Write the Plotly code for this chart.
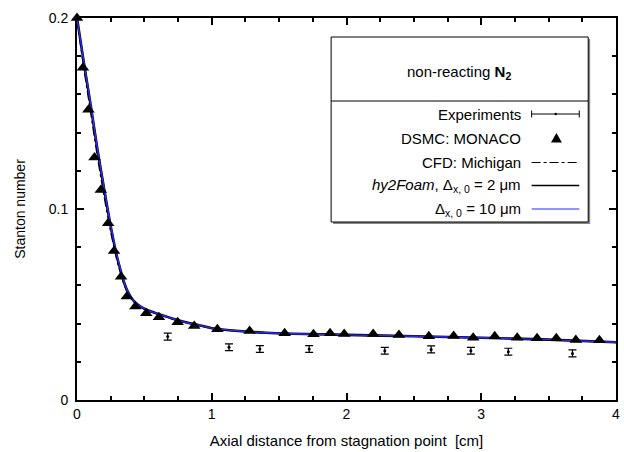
import plotly.graph_objects as go

# ---------------- data ----------------
dsmc_x = [0.0, 0.044, 0.085, 0.13, 0.177, 0.231, 0.275, 0.327, 0.37, 0.433, 0.514, 0.608,
          0.747, 0.870, 1.042, 1.281, 1.541, 1.755, 1.878, 1.983, 2.198, 2.389, 2.611,
          2.795, 2.940, 3.100, 3.267, 3.414, 3.557, 3.702, 3.877]
dsmc_y = [0.200, 0.174, 0.152, 0.127, 0.110, 0.0925, 0.078, 0.0645, 0.0542, 0.049, 0.0454,
          0.0433, 0.0407, 0.0388, 0.0370, 0.0361, 0.0349, 0.0344, 0.0349, 0.0345, 0.0346,
          0.0340, 0.0334, 0.0335, 0.0326, 0.0334, 0.0326, 0.0323, 0.0323, 0.0314, 0.0313]

exp_x = [0.673, 1.128, 1.357, 1.723, 2.284, 2.628, 2.923, 3.201, 3.677]
exp_y = [0.0332, 0.0276, 0.0267, 0.0267, 0.0258, 0.0265, 0.0258, 0.0253, 0.0244]
exp_err = [0.0018, 0.0018, 0.0018, 0.0018, 0.0018, 0.0018, 0.0018, 0.0018, 0.0018]

hy2_x = [0.0, 0.05, 0.1, 0.15, 0.2, 0.25, 0.3, 0.325, 0.35, 0.375, 0.4, 0.425, 0.45, 0.5,
         0.55, 0.6, 0.65, 0.7, 0.8, 0.9, 1.0, 1.2, 1.4, 1.6, 1.8, 2.0, 2.5, 3.0, 3.5, 4.0]
hy2_y = [0.200, 0.177, 0.155, 0.132, 0.111, 0.091, 0.074, 0.0675, 0.0614, 0.0570, 0.0538,
         0.0516, 0.0500, 0.0478, 0.0463, 0.0451, 0.0440, 0.0428, 0.0408, 0.0393, 0.0376,
         0.0361, 0.0352, 0.0347, 0.0344, 0.0341, 0.0334, 0.0326, 0.0316, 0.0302]

hy2b_x = hy2_x
hy2b_y = [0.200, 0.1775, 0.1555, 0.1325, 0.1115, 0.0915, 0.0745, 0.0678, 0.0616, 0.0571,
          0.0539, 0.0517, 0.0501, 0.0478, 0.0463, 0.0451, 0.0440, 0.0428, 0.0408, 0.0393,
          0.0376, 0.0361, 0.0352, 0.0347, 0.0344, 0.0341, 0.0334, 0.0326, 0.0316, 0.0302]

cfd_x = hy2_x
cfd_y = [0.199, 0.174, 0.151, 0.128, 0.107, 0.088, 0.072, 0.0660, 0.0602, 0.0562, 0.0532,
         0.0512, 0.0497, 0.0475, 0.0461, 0.0449, 0.0438, 0.0426, 0.0406, 0.0391, 0.0375,
         0.0360, 0.0351, 0.0346, 0.0343, 0.0340, 0.0333, 0.0325, 0.0315, 0.0301]

x_tickvals = [0, 1, 2, 3, 4]
x_ticktext = ["0", "1", "2", "3", "4"]
y_tickvals = [0, 0.1, 0.2]
y_ticktext = ["0", "0.1", "0.2"]

legend_title = "non-reacting <b>N<sub>2</sub></b>"
legend_labels = ["Experiments", "DSMC: MONACO", "CFD: Michigan",
                 "<i>hy2Foam</i>, Δ<sub>x, 0</sub> = 2 μm",
                 "Δ<sub>x, 0</sub> = 10 μm"]

FONT = "Liberation Sans, Arial, sans-serif"
BLUE = "#2a2aff"

# ---------------- figure ----------------
fig = go.Figure()

fig.add_trace(go.Scatter(x=cfd_x, y=cfd_y, mode="lines", line=dict(color="black", width=1.3, dash="dashdot", shape="spline", smoothing=0.8), showlegend=False))
fig.add_trace(go.Scatter(x=hy2_x, y=hy2_y, mode="lines", line=dict(color="black", width=2.6, shape="spline", smoothing=0.8), showlegend=False))
fig.add_trace(go.Scatter(x=hy2b_x, y=hy2b_y, mode="lines", line=dict(color=BLUE, width=1.4, shape="spline", smoothing=0.8), showlegend=False))
fig.add_trace(go.Scatter(x=dsmc_x, y=dsmc_y, mode="markers", cliponaxis=False,
                         marker=dict(symbol="triangle-up", size=11, color="black"), showlegend=False))
fig.add_trace(go.Scatter(x=exp_x, y=exp_y, mode="markers",
                         marker=dict(size=3, color="black"),
                         error_y=dict(type="data", array=exp_err, visible=True, color="black", thickness=1.2, width=4),
                         showlegend=False))

L, R, T, B = 77, 4, 18, 52
W, H = 624, 452
PW, PH = W - L - R, H - T - B


def px(xp):
    return (xp - L) / PW


def py(yp):
    return (H - B - yp) / PH


shapes = []
# legend shadow and box
shapes.append(dict(type="rect", xref="paper", yref="paper", x0=px(335), x1=px(594), y0=py(224), y1=py(39),
                   fillcolor="#888888", line=dict(width=0), layer="above"))
shapes.append(dict(type="rect", xref="paper", yref="paper", x0=px(333), x1=px(592), y0=py(222), y1=py(37),
                   fillcolor="white", line=dict(color="black", width=1), layer="above"))
shapes.append(dict(type="line", xref="paper", yref="paper", x0=px(333), x1=px(592), y0=py(101), y1=py(101),
                   line=dict(color="black", width=1), layer="above"))

row_y = [114, 138, 162.5, 185.5, 209]
sx0, sx1 = 535, 583
# experiments sample
shapes.append(dict(type="line", xref="paper", yref="paper", x0=px(sx0), x1=px(sx1), y0=py(row_y[0]), y1=py(row_y[0]), line=dict(color="black", width=1), layer="above"))
for xx in (sx0, sx1):
    shapes.append(dict(type="line", xref="paper", yref="paper", x0=px(xx), x1=px(xx), y0=py(row_y[0] - 3.5), y1=py(row_y[0] + 3.5), line=dict(color="black", width=1), layer="above"))
shapes.append(dict(type="circle", xref="paper", yref="paper", x0=px(558), x1=px(560.5), y0=py(row_y[0] + 1.2), y1=py(row_y[0] - 1.2), fillcolor="black", line=dict(width=0), layer="above"))
# triangle sample
cx, cy = 560, row_y[1]
tri = "M {} {} L {} {} L {} {} Z".format(px(cx - 5.5), py(cy + 4.5), px(cx + 5.5), py(cy + 4.5), px(cx), py(cy - 5))
shapes.append(dict(type="path", xref="paper", yref="paper", path=tri, fillcolor="black", line=dict(width=0), layer="above"))
# line samples
shapes.append(dict(type="line", xref="paper", yref="paper", x0=px(sx0), x1=px(sx1), y0=py(row_y[2]), y1=py(row_y[2]), line=dict(color="black", width=1.2, dash="dashdot"), layer="above"))
shapes.append(dict(type="line", xref="paper", yref="paper", x0=px(sx0), x1=px(sx1), y0=py(row_y[3]), y1=py(row_y[3]), line=dict(color="black", width=1.6), layer="above"))
shapes.append(dict(type="line", xref="paper", yref="paper", x0=px(sx0), x1=px(sx1), y0=py(row_y[4]), y1=py(row_y[4]), line=dict(color="#6f6fff", width=1.6), layer="above"))

annotations = [dict(text=legend_title, xref="paper", yref="paper", x=px(462), y=py(72), xanchor="center", yanchor="middle",
                    showarrow=False, font=dict(family=FONT, size=15, color="black"))]
for lab, yy in zip(legend_labels, row_y):
    annotations.append(dict(text=lab, xref="paper", yref="paper", x=px(526), y=py(yy), xanchor="right", yanchor="middle",
                            showarrow=False, font=dict(family=FONT, size=15, color="black")))

axis_common = dict(showline=True, linecolor="black", linewidth=2, mirror="allticks", ticks="inside",
                   ticklen=7, tickwidth=1.5, tickcolor="black", showgrid=False, zeroline=False,
                   tickfont=dict(family=FONT, size=14, color="black"))

fig.update_layout(
    width=W, height=H,
    margin=dict(l=L, r=R, t=T, b=B),
    paper_bgcolor="white", plot_bgcolor="white",
    shapes=shapes, annotations=annotations,
    showlegend=False,
    xaxis=dict(range=[0, 4], tickvals=x_tickvals, ticktext=x_ticktext,
               minor=dict(dtick=0.25, ticks="inside", ticklen=4, tickwidth=1.5, tickcolor="black", showgrid=False),
               title=dict(text="Axial distance from stagnation point  [cm]", font=dict(family=FONT, size=15, color="black"), standoff=15),
               **axis_common),
    yaxis=dict(range=[0, 0.2], tickvals=y_tickvals, ticktext=y_ticktext,
               minor=dict(dtick=0.02, ticks="inside", ticklen=4, tickwidth=1.5, tickcolor="black", showgrid=False),
               title=dict(text="Stanton number", font=dict(family=FONT, size=14, color="black"), standoff=20),
               ticklabelstandoff=4,
               **axis_common),
)

fig.write_html("out.html")
